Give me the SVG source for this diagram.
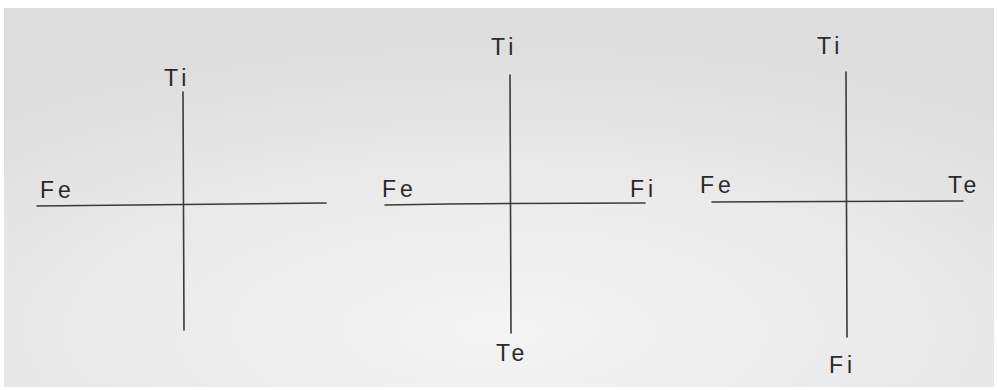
<svg xmlns="http://www.w3.org/2000/svg" width="997" height="390" viewBox="0 0 997 390">
<defs>
<radialGradient id="paper" cx="0.5" cy="0.85" r="0.75">
<stop offset="0" stop-color="#f4f4f4"/>
<stop offset="0.6" stop-color="#e9e9e9"/>
<stop offset="1" stop-color="#dedede"/>
</radialGradient>
<style>
.ax{stroke:#3a3a3a;stroke-width:1.6;fill:none;stroke-linecap:round}
.lb{font-family:"Liberation Sans",Arial,sans-serif;font-size:23px;fill:#2a2a2a;letter-spacing:4px}
</style>
</defs>
<rect width="997" height="390" fill="#ffffff"/>
<rect x="4" y="8" width="990" height="379" fill="url(#paper)"/>
<g id="connectors">
<path class="ax" d="M183 92 L184 330"/>
<path class="ax" d="M37 206 Q180 204 326 203"/>
<path class="ax" d="M510 75 L511 333"/>
<path class="ax" d="M385 205 Q515 203 645 203"/>
<path class="ax" d="M846 72 L847 337"/>
<path class="ax" d="M712 202 Q840 201 963 201"/>
</g>
<g id="d1-ti"><text class="lb" x="164" y="86">Ti</text></g>
<g id="d1-fe"><text class="lb" x="40" y="198">Fe</text></g>
<g id="d2-ti"><text class="lb" x="491" y="55">Ti</text></g>
<g id="d2-fe"><text class="lb" x="382" y="197">Fe</text></g>
<g id="d2-fi"><text class="lb" x="630" y="197">Fi</text></g>
<g id="d2-te"><text class="lb" x="496" y="361">Te</text></g>
<g id="d3-ti"><text class="lb" x="817" y="54">Ti</text></g>
<g id="d3-fe"><text class="lb" x="700" y="193">Fe</text></g>
<g id="d3-te"><text class="lb" x="948" y="193">Te</text></g>
<g id="d3-fi"><text class="lb" x="829" y="373">Fi</text></g>
</svg>
